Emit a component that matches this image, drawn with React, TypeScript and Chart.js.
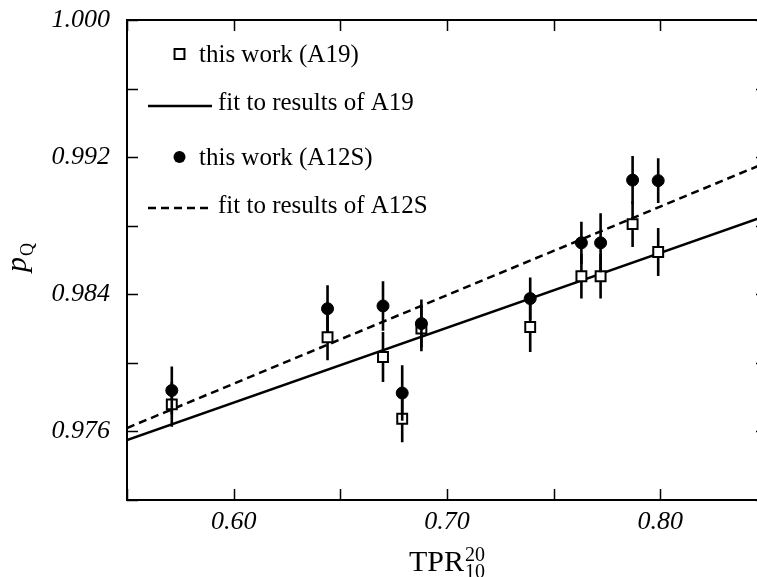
import React, { useEffect, useRef } from "react";
import { Chart, registerables } from "chart.js";

Chart.register(...registerables);

// ---- data ----
const X_MIN = 0.55;
const X_MAX = 0.85;
const Y_MIN = 0.972;
const Y_MAX = 1.0;

const tpr = [0.571, 0.644, 0.670, 0.679, 0.688, 0.739, 0.763, 0.772, 0.787, 0.799];
const pqA19 = [0.97758, 0.98149, 0.98034, 0.97674, 0.98200, 0.98209, 0.98505, 0.98505, 0.98809, 0.98647];
const errA19 = [0.0013, 0.00134, 0.00146, 0.00137, 0.00133, 0.00146, 0.0013, 0.0013, 0.00133, 0.0014];
const pqA12S = [0.97839, 0.98316, 0.98332, 0.97824, 0.98229, 0.98375, 0.98700, 0.98700, 0.99066, 0.99063];
const errA12S = [0.0014, 0.00136, 0.00144, 0.00162, 0.0014, 0.00123, 0.00123, 0.00172, 0.0014, 0.0013];

const fitX = [0.55, 0.85];
const fitA19 = [0.9755, 0.9886];
const fitA12S = [0.9762, 0.9917];

const xTickLabels = ["0.60", "0.70", "0.80"];
const yTickLabels = ["0.976", "0.984", "0.992", "1.000"];
const legendLabels = ["this work (A19)", "fit to results of A19", "this work (A12S)", "fit to results of A12S"];
const xTitle = { main: "TPR", sup: "20", sub: "10" };
const yTitle = { main: "p", sub: "Q" };

const SERIF = "'Liberation Serif', 'DejaVu Serif', serif";

const errorsByLabel: Record<string, number[]> = {
  [legendLabels[0]]: errA19,
  [legendLabels[2]]: errA12S,
};

const errorBarPlugin = {
  id: "errorBars",
  beforeDatasetDraw(chart: any, args: any) {
    const ds = chart.data.datasets[args.index];
    const errs = errorsByLabel[ds.label];
    if (!errs) return;
    const { ctx, scales } = chart;
    const x = scales.x;
    const y = scales.y;
    ctx.save();
    ctx.strokeStyle = "#000";
    ctx.lineWidth = 2.6;
    ctx.beginPath();
    ds.data.forEach((p: any, i: number) => {
      const px = x.getPixelForValue(p.x);
      ctx.moveTo(px, y.getPixelForValue(p.y - errs[i]));
      ctx.lineTo(px, y.getPixelForValue(p.y + errs[i]));
    });
    ctx.stroke();
    ctx.restore();
  },
};

const framePlugin = {
  id: "frame",
  afterDraw(chart: any) {
    const { ctx, chartArea, scales } = chart;
    const { left, right, top, bottom } = chartArea;
    ctx.save();
    ctx.strokeStyle = "#000";
    ctx.lineWidth = 2;
    ctx.strokeRect(left, top, right - left, bottom - top);
    ctx.lineWidth = 1.5;
    const L = 11;
    ctx.beginPath();
    scales.x.ticks.forEach((t: any) => {
      const px = Math.round(scales.x.getPixelForValue(t.value)) + 0.5;
      ctx.moveTo(px, bottom);
      ctx.lineTo(px, bottom - L);
      ctx.moveTo(px, top);
      ctx.lineTo(px, top + L);
    });
    scales.y.ticks.forEach((t: any) => {
      const py = Math.round(scales.y.getPixelForValue(t.value)) + 0.5;
      ctx.moveTo(left, py);
      ctx.lineTo(left + L, py);
      ctx.moveTo(right, py);
      ctx.lineTo(right - L, py);
    });
    ctx.stroke();
    ctx.restore();
  },
};

const legendPlugin = {
  id: "customLegend",
  afterDraw(chart: any) {
    const { ctx, chartArea } = chart;
    const l = chartArea.left;
    const t = chartArea.top;
    ctx.save();
    ctx.fillStyle = "#000";
    ctx.strokeStyle = "#000";
    ctx.font = `25px ${SERIF}`;
    ctx.textAlign = "left";
    ctx.textBaseline = "alphabetic";

    // 1: square marker
    const s = 7 * Math.SQRT1_2;
    ctx.lineWidth = 2;
    ctx.fillStyle = "#fff";
    ctx.beginPath();
    ctx.rect(l + 52.5 - s, t + 34 - s, 2 * s, 2 * s);
    ctx.fill();
    ctx.stroke();
    ctx.fillStyle = "#000";
    ctx.fillText(legendLabels[0], l + 72, t + 42);

    // 2: solid line
    ctx.lineWidth = 2.5;
    ctx.beginPath();
    ctx.moveTo(l + 21, t + 86);
    ctx.lineTo(l + 85, t + 86);
    ctx.stroke();
    ctx.fillText(legendLabels[1], l + 91, t + 90);

    // 3: filled circle
    ctx.beginPath();
    ctx.arc(l + 52.5, t + 137, 6, 0, Math.PI * 2);
    ctx.fill();
    ctx.fillText(legendLabels[2], l + 72, t + 145);

    // 4: dashed line
    ctx.lineWidth = 2.5;
    ctx.setLineDash([8, 5]);
    ctx.beginPath();
    ctx.moveTo(l + 21, t + 188);
    ctx.lineTo(l + 81, t + 188);
    ctx.stroke();
    ctx.setLineDash([]);
    ctx.fillText(legendLabels[3], l + 91, t + 193);
    ctx.restore();
  },
};

const titlePlugin = {
  id: "axisTitles",
  afterDraw(chart: any) {
    const { ctx, chartArea } = chart;
    ctx.save();
    ctx.fillStyle = "#000";
    ctx.textBaseline = "alphabetic";
    ctx.textAlign = "left";

    // x title: TPR^20_10
    const cx = (chartArea.left + chartArea.right) / 2;
    ctx.font = `30px ${SERIF}`;
    const wMain = ctx.measureText(xTitle.main).width;
    ctx.font = `20px ${SERIF}`;
    const wScr = Math.max(ctx.measureText(xTitle.sup).width, ctx.measureText(xTitle.sub).width);
    const x0 = cx - (wMain + wScr + 1) / 2;
    ctx.font = `30px ${SERIF}`;
    ctx.fillText(xTitle.main, x0, 571);
    ctx.font = `20px ${SERIF}`;
    ctx.fillText(xTitle.sup, x0 + wMain + 1, 561);
    ctx.fillText(xTitle.sub, x0 + wMain + 1, 578);

    // y title: p_Q (rotated)
    ctx.translate(26, 272);
    ctx.rotate(-Math.PI / 2);
    ctx.font = `italic 30px ${SERIF}`;
    const wp = ctx.measureText(yTitle.main).width;
    ctx.fillText(yTitle.main, 0, 0);
    ctx.font = `18px ${SERIF}`;
    ctx.fillText(yTitle.sub, wp + 1, 7);
    ctx.restore();
  },
};

export default function App() {
  const ref = useRef<HTMLCanvasElement | null>(null);

  useEffect(() => {
    const canvas = ref.current;
    if (!canvas) return;
    const tickFont = { family: SERIF, size: 26, style: "italic" as const };
    const chart = new Chart(canvas, {
      type: "scatter",
      data: {
        datasets: [
          {
            type: "scatter",
            label: legendLabels[2],
            data: tpr.map((x, i) => ({ x, y: pqA12S[i] })),
            pointStyle: "circle",
            pointRadius: 6,
            pointHoverRadius: 6,
            pointBackgroundColor: "#000",
            pointBorderColor: "#000",
            pointBorderWidth: 1,
            order: 0,
          },
          {
            type: "scatter",
            label: legendLabels[0],
            data: tpr.map((x, i) => ({ x, y: pqA19[i] })),
            pointStyle: "rect",
            pointRadius: 7,
            pointHoverRadius: 7,
            pointBackgroundColor: "#fff",
            pointBorderColor: "#000",
            pointBorderWidth: 2,
            order: 1,
          },
          {
            type: "line",
            label: legendLabels[1],
            data: fitX.map((x, i) => ({ x, y: fitA19[i] })),
            borderColor: "#000",
            borderWidth: 2.5,
            pointRadius: 0,
            fill: false,
            order: 2,
          },
          {
            type: "line",
            label: legendLabels[3],
            data: fitX.map((x, i) => ({ x, y: fitA12S[i] })),
            borderColor: "#000",
            borderWidth: 2.5,
            borderDash: [8, 5],
            pointRadius: 0,
            fill: false,
            order: 3,
          },
        ],
      } as any,
      options: {
        responsive: false,
        animation: false,
        devicePixelRatio: 1,
        events: [],
        layout: { padding: { top: 20, right: 13, left: 0, bottom: 0 } },
        plugins: { legend: { display: false }, tooltip: { enabled: false } },
        scales: {
          x: {
            type: "linear",
            min: X_MIN,
            max: X_MAX,
            grid: { display: false, drawTicks: false },
            border: { display: false },
            ticks: {
              stepSize: 0.05,
              padding: 7,
              autoSkip: false,
              maxRotation: 0,
              color: "#000",
              font: tickFont,
              callback: (v: any) => {
                const s = Number(v).toFixed(2);
                return xTickLabels.includes(s) ? s : "";
              },
            },
            afterFit: (s: any) => {
              s.height = 77;
              s.paddingLeft = 0;
              s.paddingRight = 0;
            },
          },
          y: {
            type: "linear",
            min: Y_MIN,
            max: Y_MAX,
            grid: { display: false, drawTicks: false },
            border: { display: false },
            ticks: {
              stepSize: 0.004,
              padding: 17,
              autoSkip: false,
              color: "#000",
              font: tickFont,
              callback: (v: any) => {
                const s = Number(v).toFixed(3);
                return yTickLabels.includes(s) ? s : "";
              },
            },
            afterFit: (s: any) => {
              s.width = 127;
              s.paddingTop = 0;
              s.paddingBottom = 0;
            },
          },
        },
      } as any,
      plugins: [errorBarPlugin, framePlugin, legendPlugin, titlePlugin],
    });
    return () => chart.destroy();
  }, []);

  return (
    <div
      style={{
        position: "absolute",
        left: 0,
        top: 0,
        width: 757,
        height: 577,
        overflow: "hidden",
        background: "#fff",
      }}
    >
      <canvas ref={ref} width={780} height={577} style={{ display: "block", width: 780, height: 577 }} />
    </div>
  );
}
